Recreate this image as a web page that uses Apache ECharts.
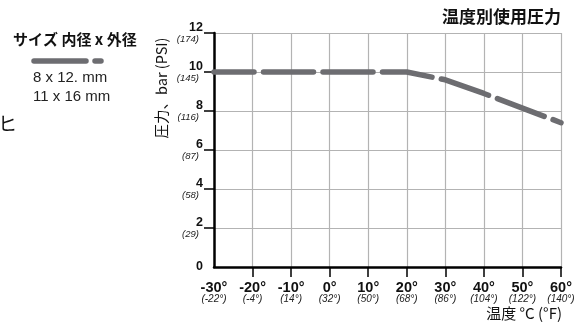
<!DOCTYPE html>
<html><head><meta charset="utf-8">
<script src="https://cdn.jsdelivr.net/npm/echarts@6/dist/echarts.min.js"></script>
<style>html,body{margin:0;padding:0;background:#fff}#c{width:582px;height:325px}</style>
</head><body><div id="c"></div>
<script>
// Data
const tempC = [-30, -20, -10, 0, 10, 20, 30, 40, 50, 60];
const tempF = [-22, -4, 14, 32, 50, 68, 86, 104, 122, 140];
const pressureBar = [10, 10, 10, 10, 10, 10, 9.6, 8.9, 8.15, 7.4];
const barTicks = [0, 2, 4, 6, 8, 10, 12];
const psiTicks = [null, 29, 58, 87, 116, 145, 174];
const seriesName = 'サイズ 内径 x 外径';
const sizes = ['8 x 12. mm', '11 x 16 mm'];
const titleText = '温度別使用圧力';
const yName = '圧力、bar (PSI)';
const xName = '温度 °C (°F)';

const sans = '"Liberation Sans", Arial, "Noto Sans CJK JP", sans-serif';
const cjk = '"Noto Sans CJK JP", "Liberation Sans", sans-serif';
const lineColor = '#6d6d71';

const chart = echarts.init(document.getElementById('c'), null, {renderer: 'canvas'});
chart.setOption({
  animation: false,
  grid: {left: 214, right: 21, top: 33, bottom: 58},
  xAxis: {
    type: 'value', min: -30, max: 60, interval: 10,
    axisLine: {show: true, onZero: false, lineStyle: {color: '#000', width: 2.5}},
    axisTick: {show: true, length: 10, customValues: tempC.slice(1), lineStyle: {color: '#000', width: 1.5}},
    splitLine: {show: true, lineStyle: {color: '#b3b3b3', width: 1.2}},
    axisLabel: {
      margin: 14,
      formatter: v => {
        const i = tempC.indexOf(v);
        return '{a|' + v + '°}\n{b|(' + tempF[i] + '°)}';
      },
      rich: {
        a: {fontFamily: sans, fontWeight: 'bold', fontSize: 14.5, color: '#111', lineHeight: 13},
        b: {fontFamily: sans, fontStyle: 'italic', fontSize: 10, color: '#222', lineHeight: 11}
      }
    }
  },
  yAxis: {
    type: 'value', min: 0, max: 12, interval: 2,
    axisLine: {show: true, onZero: false, lineStyle: {color: '#000', width: 2.5}},
    axisTick: {show: true, length: 10, customValues: barTicks.slice(1), lineStyle: {color: '#000', width: 1.5}},
    splitLine: {show: true, lineStyle: {color: '#b3b3b3', width: 1.2}},
    axisLabel: {
      margin: 11,
      formatter: v => {
        const i = barTicks.indexOf(v);
        if (psiTicks[i] == null) return '{a|' + v + '}';
        return '{a|' + v + '}\n{b|(' + psiTicks[i] + ')}';
      },
      rich: {
        a: {fontFamily: sans, fontWeight: 'bold', fontSize: 12.5, color: '#111', lineHeight: 12, align: 'right'},
        b: {fontFamily: sans, fontStyle: 'italic', fontSize: 9.5, color: '#222', lineHeight: 11, align: 'right', padding: [0, 4, 0, 0]}
      }
    }
  },
  series: [{
    name: seriesName,
    type: 'line',
    data: tempC.map((c, i) => [c, pressureBar[i]]),
    showSymbol: false,
    symbol: 'none',
    lineStyle: {color: lineColor, width: 5.5, type: [50, 9.5], dashOffset: 10, cap: 'round', join: 'round'},
    z: 5
  }],
  graphic: [
    {type: 'text', left: 13, top: 32, style: {text: seriesName, font: 'bold 15px ' + cjk, fill: '#111'}},
    {type: 'line', shape: {x1: 34, y1: 61, x2: 86, y2: 61}, style: {stroke: lineColor, lineWidth: 5.5, lineCap: 'round'}},
    {type: 'line', shape: {x1: 95, y1: 61, x2: 101, y2: 61}, style: {stroke: lineColor, lineWidth: 5.5, lineCap: 'round'}},
    {type: 'text', left: 33, top: 70, style: {text: sizes[0], font: '15px ' + sans, fill: '#222'}},
    {type: 'text', left: 33, top: 89, style: {text: sizes[1], font: '15px ' + sans, fill: '#222'}},
    {type: 'text', left: -2, top: 114, style: {text: 'ヒ', font: '19px ' + cjk, fill: '#111'}},
    {type: 'text', x: 161, y: 88, rotation: Math.PI / 2,
      style: {text: yName, font: '14.5px ' + cjk, fill: '#111', align: 'center', verticalAlign: 'middle'}},
    {type: 'text', x: 562, y: 313,
      style: {text: xName, font: '15px ' + cjk, fill: '#111', align: 'right', verticalAlign: 'middle'}},
    {type: 'text', x: 561, y: 17,
      style: {text: titleText, font: 'bold 17px ' + cjk, fill: '#111', align: 'right', verticalAlign: 'middle'}}
  ]
});
</script></body></html>
